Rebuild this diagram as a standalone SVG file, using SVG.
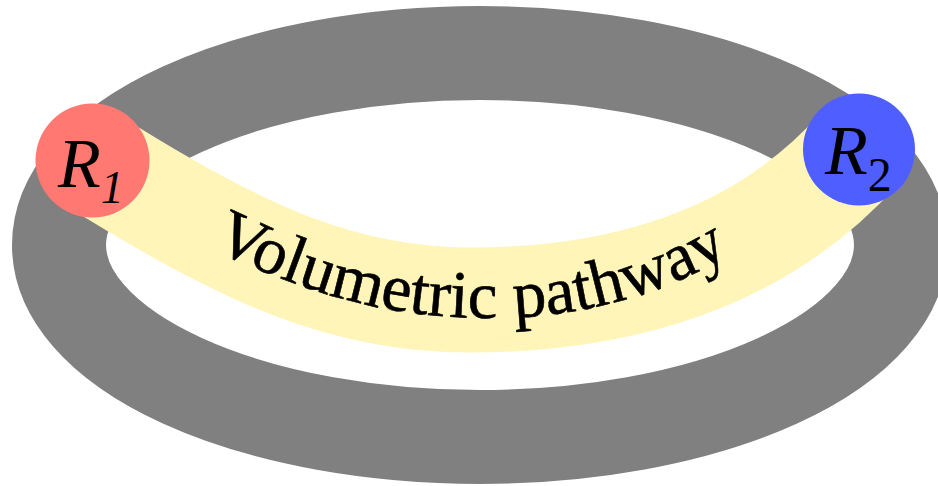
<svg xmlns="http://www.w3.org/2000/svg" width="938" height="486" viewBox="0 0 938 486">
<style>
.lbl{font-family:"Liberation Serif","Times New Roman",serif;fill:#000}
</style>
<defs>
<path id="base" d="M120,200 C270,285 370,318 490,318 C620,318 730,270 800,200"/>
</defs>
<rect width="938" height="486" fill="#fff"/>
<g id="ring"><ellipse cx="480" cy="245" rx="421" ry="192" fill="none" stroke="#808080" stroke-width="94"/></g>
<g id="connectors">
<path id="pathway" d="M92,160 C250,260 350,300 470,300 C620,300 760,260 859,149" fill="none" stroke="#fff5b9" stroke-width="105"/>
<text class="lbl" font-size="67" stroke="#000" stroke-width="0.6"><textPath href="#base" startOffset="104">Volumetric pathway</textPath></text>
</g>
<g id="R1"><circle cx="92.5" cy="160.5" r="57" fill="#ff7872"/>
<text class="lbl" x="58" y="187" font-size="70" font-style="italic">R<tspan font-size="46" dy="16">1</tspan></text></g>
<g id="R2"><circle cx="859" cy="149.5" r="56" fill="#4f5fff"/>
<text class="lbl" x="825" y="174" font-size="70" font-style="italic">R<tspan font-size="48" dy="17" font-style="normal">2</tspan></text></g>
</svg>
